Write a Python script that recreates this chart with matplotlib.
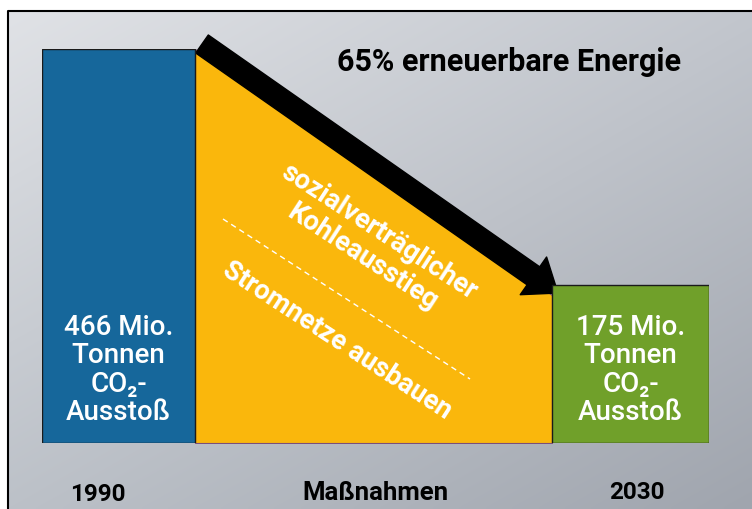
import matplotlib.pyplot as plt
import numpy as np
from matplotlib.transforms import offset_copy

plt.rcParams['font.family'] = ['Roboto', 'DejaVu Sans']

# data
years = ['1990', '2030']
co2 = [466, 175]                 # Mio. t, as printed in the bars
bar_height = [466, 187]          # drawn heights (graphic is not quite to scale)
bar_colors = ['#16679b', '#70a02a']
middle_label = 'Maßnahmen'
title = '65% erneuerbare Energie'
measures_top = 'sozialverträglicher\nKohleausstieg'
measures_bottom = 'Stromnetze ausbauen'

W, H = 752, 510
fig = plt.figure(figsize=(W / 100, H / 100), dpi=100)

# background: grey gradient panel with black frame on top/left
bg = fig.add_axes([0, 0, 1, 1])
bg.set_xlim(0, W)
bg.set_ylim(H, 0)
bg.axis('off')
tl = np.array([0xe0, 0xe2, 0xe6]) / 255.
tr = np.array([0xc2, 0xc6, 0xcd]) / 255.
bl = np.array([0xbc, 0xc1, 0xc8]) / 255.
br = np.array([0xa0, 0xa5, 0xae]) / 255.
u = np.linspace(0, 1, 200)[None, :, None]
v = np.linspace(0, 1, 140)[:, None, None]
grad = (1 - v) * ((1 - u) * tl + u * tr) + v * ((1 - u) * bl + u * br)
bg.imshow(grad, extent=(8, W, H, 12), aspect='auto', interpolation='bilinear')
bg.plot([8, 8, W], [H, 12, 12], color='black', lw=1.5)

# main axes: x in pixels, y in Mio. t
x0, x1 = 42, 709
ytop, ybot = 50, 444
ax = fig.add_axes([x0 / W, (H - ybot) / H, (x1 - x0) / W, (ybot - ytop) / H])
ax.set_xlim(x0, x1)
ax.set_ylim(0, bar_height[0])
ax.axis('off')
ax.patch.set_alpha(0)

lefts = [42, 552]
widths = [153, 157]
mid_l, mid_r = lefts[0] + widths[0], lefts[1]

ax.fill_between([mid_l, mid_r], [co2[0], co2[1]], 0, color='#fab70c',
                edgecolor='#7a4f7a', lw=0.8, zorder=1)
ax.bar(lefts, bar_height, width=widths, align='edge', color=bar_colors,
       edgecolor='#1a1a1a', lw=1, zorder=3)

# black arrow along the top of the reduction wedge
ax.annotate('', xy=(mid_r, co2[1]), xytext=(mid_l, co2[0]),
            xycoords=offset_copy(ax.transData, fig=fig, x=6, y=2, units='dots'),
            textcoords=offset_copy(ax.transData, fig=fig, x=7, y=5, units='dots'),
            arrowprops=dict(arrowstyle='simple,head_length=3.0,head_width=4.6,tail_width=2.2',
                            mutation_scale=7.2, color='black', shrinkA=0, shrinkB=0),
            annotation_clip=False, zorder=2)

# bar labels
for left, w, val in zip(lefts, widths, co2):
    ax.text(left + w / 2, co2[1] / 2, f'{val} Mio.\nTonnen\nCO\u2082-\nAusstoß',
            color='white', fontsize=20, fontweight='medium',
            ha='center', va='center', linespacing=1.05, zorder=4)

# measures text in the wedge (pixel coords, drawn above the wedge)
px = bg.transData
ax.text(371, 244, measures_top, transform=px, rotation=-33, rotation_mode='anchor',
        color='white', fontsize=19.5, fontweight='bold', ha='center', va='center',
        ma='center', linespacing=1.15, zorder=5, clip_on=False)
ax.plot([223, 470], [220, 380], transform=px, color='white', lw=1, ls=(0, (4, 3)),
        zorder=5, clip_on=False)
ax.text(337, 340, measures_bottom, transform=px, rotation=-33, rotation_mode='anchor',
        color='white', fontsize=19.5, fontweight='bold', ha='center', va='center',
        zorder=5, clip_on=False)

bg.text(509, 62, title, fontsize=22, fontweight='bold', ha='center', va='center')
bg.text(98, 495, years[0], fontsize=17.5, fontweight='bold', ha='center', va='center')
bg.text(375, 493, middle_label, fontsize=18.5, fontweight='bold', ha='center', va='center')
bg.text(637, 493, years[1], fontsize=17.5, fontweight='bold', ha='center', va='center')

fig.savefig('out.png', dpi=100)
